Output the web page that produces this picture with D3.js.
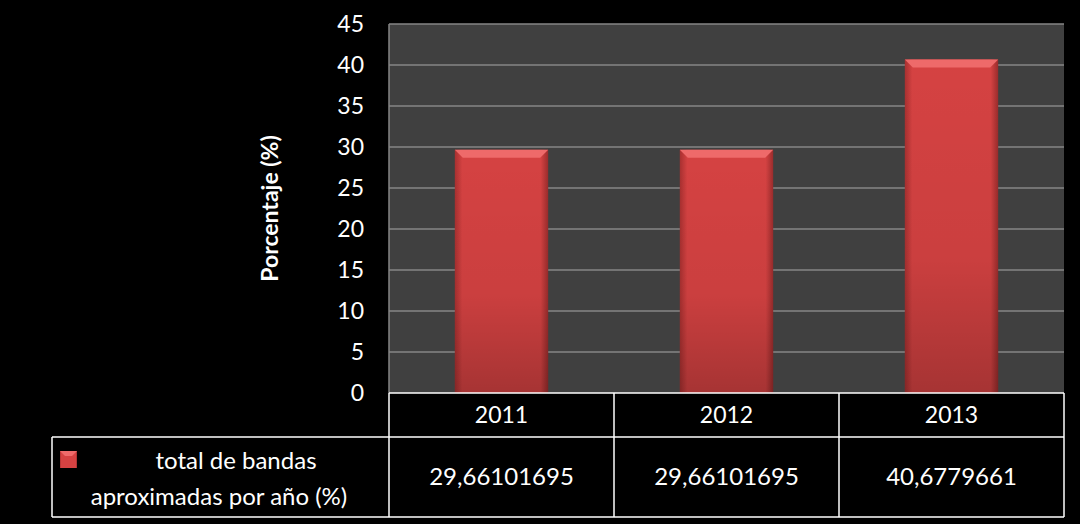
<!doctype html>
<head>
  <meta charset="utf-8">
  <script src="https://cdnjs.cloudflare.com/ajax/libs/d3/7.8.2/d3.min.js"></script>
</head>
<style>
    html, body { margin: 0; background: #000; }
    text { font-family: Lato, "Noto Sans", sans-serif; fill: #fff; }
</style>
<body>
<div id="chart"></div>
<script>
    // Datos del gráfico
    const years = ["2011", "2012", "2013"];
    const values = [29.66101695, 29.66101695, 40.6779661];
    const valueLabels = ["29,66101695", "29,66101695", "40,6779661"];
    const yTicks = [0, 5, 10, 15, 20, 25, 30, 35, 40, 45];
    const seriesName = ["total de bandas", "aproximadas por año (%)"];

    const W = 1080, H = 524;
    const plot = {left: 389, right: 1064, top: 24, bottom: 393};

    const svg = d3.select('#chart').append('svg')
        .attr('width', W).attr('height', H);

    const defs = svg.append('defs');
    const grad = defs.append('linearGradient').attr('id', 'barGrad')
        .attr('x1', 0).attr('x2', 1).attr('y1', 0).attr('y2', 0);
    grad.append('stop').attr('offset', '0%').attr('stop-color', '#a83030');
    grad.append('stop').attr('offset', '8%').attr('stop-color', '#d54242');
    grad.append('stop').attr('offset', '92%').attr('stop-color', '#d54242');
    grad.append('stop').attr('offset', '100%').attr('stop-color', '#9a2c2c');
    const gradV = defs.append('linearGradient').attr('id', 'barShade')
        .attr('x1', 0).attr('x2', 0).attr('y1', 0).attr('y2', 1);
    gradV.append('stop').attr('offset', '0%').attr('stop-color', '#000').attr('stop-opacity', 0);
    gradV.append('stop').attr('offset', '60%').attr('stop-color', '#000').attr('stop-opacity', 0.05);
    gradV.append('stop').attr('offset', '100%').attr('stop-color', '#000').attr('stop-opacity', 0.22);

    const x = d3.scaleBand().domain(years).range([plot.left, plot.right]).paddingInner(0.585).paddingOuter(0.2925);
    const xCol = d3.scaleBand().domain(years).range([plot.left, plot.right]);
    const y = d3.scaleLinear().domain([0, 45]).range([plot.bottom, plot.top]);

    // Fondo del área de trazado
    svg.append('rect')
        .attr('x', plot.left).attr('y', plot.top)
        .attr('width', plot.right - plot.left).attr('height', plot.bottom - plot.top)
        .attr('fill', '#404040');

    // Líneas de cuadrícula
    svg.selectAll('.grid').data(yTicks.slice(1)).enter().append('line')
        .attr('x1', plot.left).attr('x2', plot.right)
        .attr('y1', d => y(d)).attr('y2', d => y(d))
        .attr('stroke', '#868686').attr('stroke-width', 1.5);
    svg.append('line')
        .attr('x1', plot.left).attr('x2', plot.left)
        .attr('y1', plot.top).attr('y2', plot.bottom)
        .attr('stroke', '#868686').attr('stroke-width', 1.5);

    // Barras
    const bars = svg.selectAll('.bar').data(values).enter().append('g');
    bars.append('rect')
        .attr('x', (d, i) => x(years[i])).attr('y', d => y(d))
        .attr('width', x.bandwidth()).attr('height', d => y(0) - y(d))
        .attr('fill', 'url(#barGrad)');
    bars.append('rect')
        .attr('x', (d, i) => x(years[i])).attr('y', d => y(d))
        .attr('width', x.bandwidth()).attr('height', d => y(0) - y(d))
        .attr('fill', 'url(#barShade)');
    bars.append('path')
        .attr('d', (d, i) => {
            const x0 = x(years[i]), x1 = x0 + x.bandwidth(), t = y(d);
            return `M${x0},${t}L${x1},${t}L${x1 - 8},${t + 8}L${x0 + 8},${t + 8}Z`;
        })
        .attr('fill', '#ee6a6a');

    // Eje Y
    svg.selectAll('.ytick').data(yTicks).enter().append('text')
        .attr('x', 364).attr('y', d => y(d)).attr('dy', '0.35em')
        .attr('text-anchor', 'end').attr('font-size', 23)
        .text(d => d);

    svg.append('text')
        .attr('transform', `translate(278, ${(plot.top + plot.bottom) / 2}) rotate(-90)`)
        .attr('text-anchor', 'middle').attr('font-size', 23).attr('font-weight', 'bold')
        .text('Porcentaje (%)');

    // Tabla de datos
    const rowTop = plot.bottom, rowMid = 437, rowBot = 517, legendLeft = 52;
    const tbl = svg.append('g').attr('stroke', '#fff').attr('stroke-width', 1.5).attr('fill', 'none');
    tbl.append('line').attr('x1', plot.left).attr('x2', plot.right).attr('y1', rowTop).attr('y2', rowTop);
    tbl.append('line').attr('x1', legendLeft).attr('x2', plot.right).attr('y1', rowMid).attr('y2', rowMid);
    tbl.append('line').attr('x1', legendLeft).attr('x2', plot.right).attr('y1', rowBot).attr('y2', rowBot);
    tbl.append('line').attr('x1', legendLeft).attr('x2', legendLeft).attr('y1', rowMid).attr('y2', rowBot);
    tbl.selectAll('.vl').data(years).enter().append('line')
        .attr('x1', d => xCol(d)).attr('x2', d => xCol(d)).attr('y1', rowTop).attr('y2', rowBot);
    tbl.append('line').attr('x1', plot.right).attr('x2', plot.right).attr('y1', rowTop).attr('y2', rowBot);

    svg.selectAll('.yr').data(years).enter().append('text')
        .attr('x', d => xCol(d) + xCol.bandwidth() / 2).attr('y', (rowTop + rowMid) / 2).attr('dy', '0.35em')
        .attr('text-anchor', 'middle').attr('font-size', 23)
        .text(d => d);
    svg.selectAll('.val').data(valueLabels).enter().append('text')
        .attr('x', (d, i) => xCol(years[i]) + xCol.bandwidth() / 2).attr('y', (rowMid + rowBot) / 2).attr('dy', '0.35em')
        .attr('text-anchor', 'middle').attr('font-size', 24)
        .text(d => d);

    // Leyenda
    svg.append('rect').attr('x', 60).attr('y', 451).attr('width', 17).attr('height', 17)
        .attr('fill', 'url(#barGrad)');
    svg.append('path').attr('d', 'M60,451L77,451L72,456L65,456Z').attr('fill', '#ee6a6a');
    svg.selectAll('.leg').data(seriesName).enter().append('text')
        .attr('x', (d, i) => i === 0 ? 236 : 219)
        .attr('y', (d, i) => 461 + i * 36).attr('dy', '0.35em')
        .attr('text-anchor', 'middle').attr('font-size', 24)
        .text(d => d);
</script>
</body>
